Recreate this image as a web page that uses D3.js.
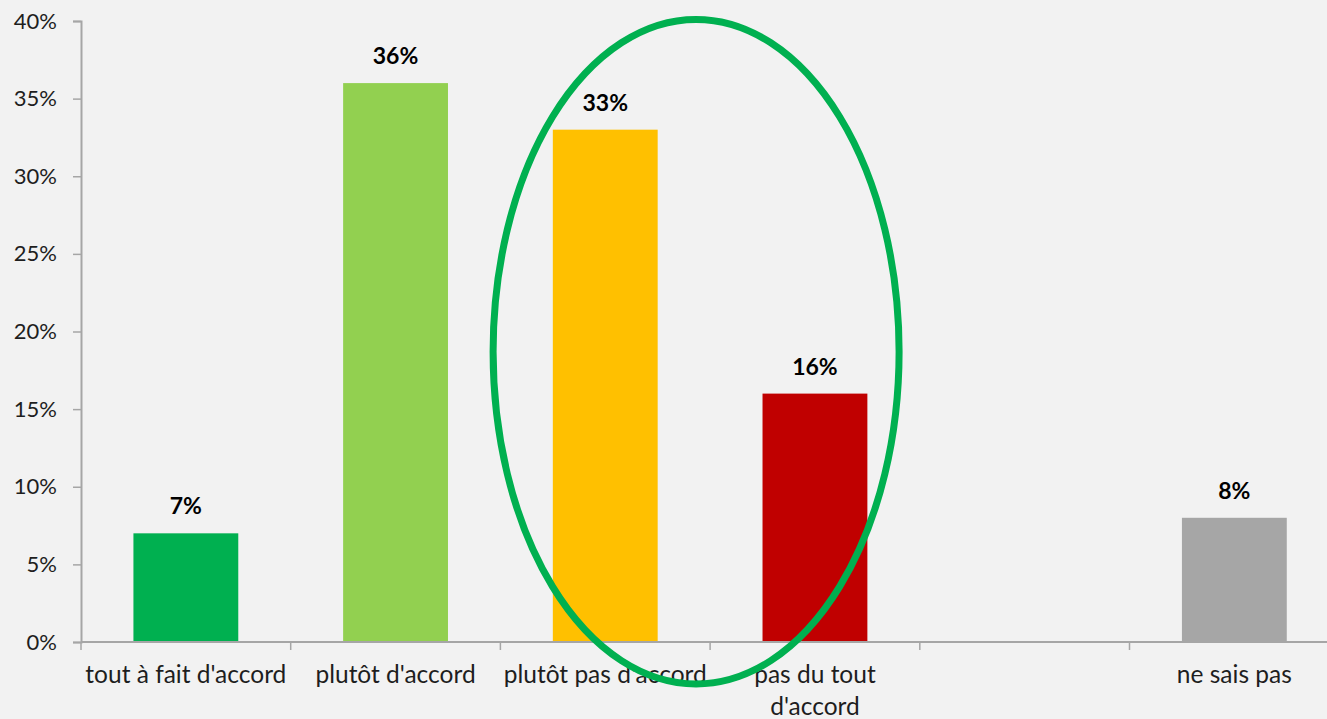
<!DOCTYPE html>
<html>
<head>
<meta charset="utf-8">
<script src="https://cdn.jsdelivr.net/npm/d3@7"></script>
<style>
  html, body { margin: 0; padding: 0; background: #f2f2f2; }
  svg { display: block; }
  .tick text { font-family: Lato, "Open Sans", sans-serif; }
</style>
</head>
<body>
<div id="chart"></div>
<script>
// categories (one empty slot before "ne sais pas")
const categories = ["tout à fait d'accord", "plutôt d'accord", "plutôt pas d'accord", "pas du tout d'accord", "", "ne sais pas"];
const values = [7, 36, 33, 16, null, 8];
const barColors = ["#00b050", "#92d050", "#ffc000", "#c00000", "none", "#a6a6a6"];
const yTicks = [0, 5, 10, 15, 20, 25, 30, 35, 40];

const W = 1327, H = 719;
const margin = {top: 21, left: 81, bottom: 77};
const slotW = 209.7;

const svg = d3.select("#chart").append("svg")
    .attr("width", W)
    .attr("height", H);

svg.append("rect").attr("width", W).attr("height", H).attr("fill", "#f2f2f2");

const x = d3.scaleBand()
    .domain(d3.range(categories.length))
    .range([margin.left, margin.left + slotW * categories.length])
    .paddingInner(0.5)
    .paddingOuter(0.25);

const y = d3.scaleLinear()
    .domain([0, 40])
    .range([H - margin.bottom, margin.top]);

// y axis
const yAxis = svg.append("g")
    .attr("transform", "translate(" + margin.left + ",0)")
    .call(d3.axisLeft(y).tickValues(yTicks).tickFormat(d => d + "%").tickSize(8).tickPadding(16));
yAxis.select(".domain").attr("stroke", "#a6a6a6").attr("stroke-width", 2);
yAxis.selectAll(".tick line").attr("stroke", "#a6a6a6").attr("stroke-width", 1.5);
yAxis.selectAll(".tick text").attr("font-size", 22).attr("fill", "#1e1e1e");

// bars
svg.append("g").selectAll("rect")
    .data(values.map((v, i) => ({v, i})).filter(d => d.v !== null))
    .join("rect")
    .attr("x", d => x(d.i))
    .attr("width", x.bandwidth())
    .attr("y", d => y(d.v))
    .attr("height", d => y(0) - y(d.v))
    .attr("fill", d => barColors[d.i]);

// value labels
svg.append("g").selectAll("text")
    .data(values.map((v, i) => ({v, i})).filter(d => d.v !== null))
    .join("text")
    .attr("x", d => x(d.i) + x.bandwidth() / 2)
    .attr("y", d => y(d.v) - 19)
    .attr("text-anchor", "middle")
    .attr("font-family", "Lato, 'Open Sans', sans-serif")
    .attr("font-weight", "bold")
    .attr("font-size", 23)
    .attr("fill", "#000")
    .text(d => d.v + "%");

// x axis baseline + slot ticks
const x0 = margin.left, x1 = margin.left + slotW * categories.length;
svg.append("line")
    .attr("x1", x0).attr("x2", x1)
    .attr("y1", y(0)).attr("y2", y(0))
    .attr("stroke", "#a6a6a6").attr("stroke-width", 2);
svg.append("g").selectAll("line")
    .data(d3.range(categories.length + 1))
    .join("line")
    .attr("x1", i => x0 + i * slotW).attr("x2", i => x0 + i * slotW)
    .attr("y1", y(0)).attr("y2", y(0) + 8)
    .attr("stroke", "#a6a6a6").attr("stroke-width", 1.5);

// category labels (wrapped like the original)
const wrapped = {"pas du tout d'accord": ["pas du tout", "d'accord"]};
const labels = svg.append("g").selectAll("text")
    .data(categories.map((c, i) => ({c, i})).filter(d => d.c !== ""))
    .join("text")
    .attr("x", d => x(d.i) + x.bandwidth() / 2)
    .attr("y", y(0) + 41)
    .attr("text-anchor", "middle")
    .attr("font-family", "Lato, 'Open Sans', sans-serif")
    .attr("font-size", 24.5)
    .attr("fill", "#1e1e1e");
labels.each(function(d) {
    const lines = wrapped[d.c] || [d.c];
    d3.select(this).selectAll("tspan")
        .data(lines)
        .join("tspan")
        .attr("x", x(d.i) + x.bandwidth() / 2)
        .attr("dy", (l, k) => k === 0 ? 0 : 32)
        .text(l => l);
});

// highlight ellipse around the "disagree" answers
const cx = x0 + 3 * slotW - 14;
svg.append("ellipse")
    .attr("cx", cx)
    .attr("cy", y(18.7))
    .attr("rx", 203)
    .attr("ry", y(0) - y(21.4))
    .attr("fill", "none")
    .attr("stroke", "#00b050")
    .attr("stroke-width", 7);
</script>
</body>
</html>
